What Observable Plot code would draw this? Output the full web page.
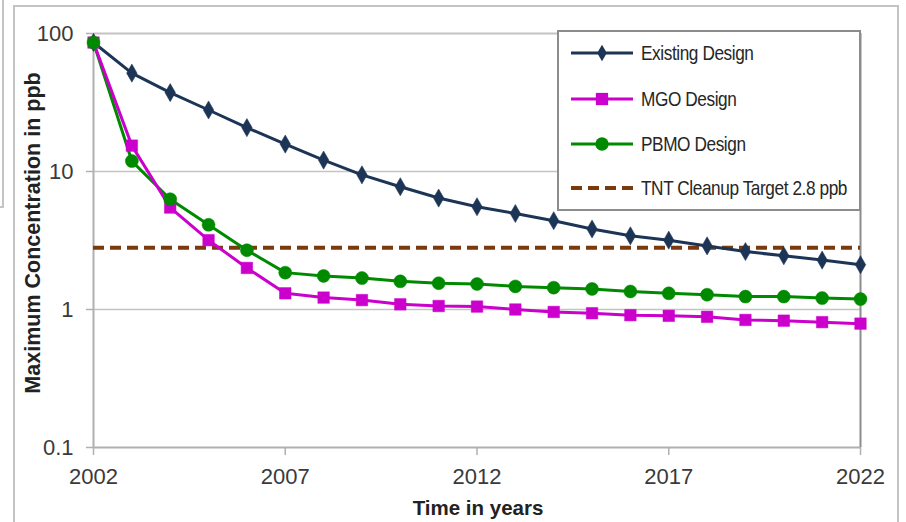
<!DOCTYPE html>
<html>
<head>
<meta charset="utf-8">
<script src="https://cdn.jsdelivr.net/npm/d3@7"></script>
<script src="https://cdn.jsdelivr.net/npm/@observablehq/plot@0.6"></script>
<style>
  html, body { margin: 0; padding: 0; background: #fff; }
  #wrap { position: relative; width: 906px; height: 522px; overflow: hidden; }
  #outer { position: absolute; left: 13px; top: 5px; width: 886px; height: 540px; border: 2px solid #c4c4c4; box-sizing: border-box; }
  #artifact { position: absolute; left: -2px; top: -2px; width: 6px; height: 210px; border: 2px solid #c4c4c4; box-sizing: border-box; }
  #chart { position: absolute; left: 0; top: 0; }
  #legend { position: absolute; left: 557px; top: 30px; width: 304px; height: 181px; border: 2px solid #8c8c8c; box-sizing: border-box; background: #fff;
    font-family: "Liberation Sans", sans-serif; font-size: 21px; color: #262626; }
  .item { position: absolute; left: 12px; height: 30px; display: flex; align-items: center; white-space: nowrap; }
  .item svg { margin-right: 8px; flex: none; }
  .item span { display: inline-block; transform: scaleX(0.82); transform-origin: left center; letter-spacing: -0.5px; }
  .title { position: absolute; font-family: "Liberation Sans", sans-serif; font-weight: bold; color: #222; white-space: nowrap; }
</style>
</head>
<body>
<div id="wrap">
  <div id="artifact"></div>
  <div id="outer"></div>
  <div id="chart"></div>
  <div id="legend"></div>
  <div class="title" style="left:33px; top:233px; font-size:21.5px; transform: translate(-50%,-50%) rotate(-90deg);">Maximum Concentration in ppb</div>
  <div class="title" style="left:478px; top:508px; font-size:20.5px; transform: translate(-50%,-50%);">Time in years</div>
</div>
<script>
const years = d3.range(2002, 2023);
const existing = [86, 51.6, 37.3, 27.9, 20.8, 15.8, 12.1, 9.46, 7.75, 6.42, 5.55, 4.96, 4.40, 3.83, 3.42, 3.18, 2.89, 2.63, 2.45, 2.28, 2.11];
const mgo      = [86, 15.4, 5.48, 3.18, 2.0, 1.31, 1.22, 1.17, 1.09, 1.06, 1.05, 1.0, 0.96, 0.94, 0.91, 0.90, 0.885, 0.84, 0.83, 0.81, 0.79];
const pbmo     = [86, 11.9, 6.3, 4.11, 2.69, 1.85, 1.75, 1.69, 1.60, 1.55, 1.53, 1.47, 1.44, 1.41, 1.35, 1.31, 1.28, 1.24, 1.24, 1.21, 1.19];
const target = 2.8;
const seriesNames = ["Existing Design", "MGO Design", "PBMO Design", "TNT Cleanup Target 2.8 ppb"];
const xTicks = [2002, 2007, 2012, 2017, 2022];
const yTicks = [0.1, 1, 10, 100];
const colors = {existing: "#1c3557", mgo: "#cc00cc", pbmo: "#008a00", target: "#7a3a0e"};

const rows = (vals) => years.map((y, i) => ({year: y, value: vals[i]}));
const dExisting = rows(existing), dMgo = rows(mgo), dPbmo = rows(pbmo);

const chart = Plot.plot({
  width: 906, height: 522,
  marginLeft: 93, marginRight: 46, marginTop: 33, marginBottom: 75,
  style: {fontFamily: "Liberation Sans, sans-serif", fontSize: "22px", color: "#3a3a3a", background: "transparent"},
  x: {domain: [2002, 2022]},
  y: {type: "log", domain: [0.1, 100]},
  marks: [
    Plot.gridY([1, 10], {stroke: "#c4c4c4", strokeOpacity: 1, strokeWidth: 1.5}),
    Plot.ruleY([100], {stroke: "#c4c4c4", strokeWidth: 2}),
    Plot.ruleX([2022], {stroke: "#8c8c8c", strokeWidth: 2}),
    Plot.ruleY([0.1], {stroke: "#b0b0b0", strokeWidth: 2}),
    Plot.ruleX([2002], {stroke: "#b0b0b0", strokeWidth: 2}),
    Plot.axisX({ticks: xTicks, tickFormat: d => String(d), tickSize: 8, tickPadding: 13, stroke: "#b0b0b0", strokeWidth: 1.5, label: null, fontSize: 22}),
    Plot.axisY({ticks: yTicks, tickFormat: d => String(d), tickSize: 7, tickPadding: 13, stroke: "#b0b0b0", strokeWidth: 1.5, label: null, fontSize: 22}),
    Plot.ruleY([target], {stroke: colors.target, strokeWidth: 4, strokeDasharray: "11,6"}),
    Plot.line(dExisting, {x: "year", y: "value", stroke: colors.existing, strokeWidth: 3}),
    Plot.dot(dExisting, {x: "year", y: "value", symbol: "diamond", r: 5.5, fill: colors.existing, stroke: colors.existing, strokeWidth: 0.5}),
    Plot.line(dPbmo, {x: "year", y: "value", stroke: colors.pbmo, strokeWidth: 3}),
    Plot.line(dMgo, {x: "year", y: "value", stroke: colors.mgo, strokeWidth: 3}),
    Plot.dot(dMgo, {x: "year", y: "value", symbol: "square", r: 6.5, fill: colors.mgo, stroke: colors.mgo, strokeWidth: 0.5}),
    Plot.dot(dPbmo, {x: "year", y: "value", symbol: "circle", r: 6.5, fill: colors.pbmo, stroke: colors.pbmo, strokeWidth: 0.5})
  ]
});
document.getElementById("chart").appendChild(chart);

// Legend
const legend = d3.select("#legend");
const legendSpec = [
  {name: seriesNames[0], color: colors.existing, symbol: d3.symbolDiamond, size: 80, dash: null},
  {name: seriesNames[1], color: colors.mgo, symbol: d3.symbolSquare, size: 150, dash: null},
  {name: seriesNames[2], color: colors.pbmo, symbol: d3.symbolCircle, size: 140, dash: null},
  {name: seriesNames[3], color: colors.target, symbol: null, size: 0, dash: "11,6"}
];
const rowTops = [6, 52, 97, 141];
legendSpec.forEach((s, i) => {
  const item = legend.append("div").attr("class", "item").style("top", rowTops[i] + "px");
  const svg = item.append("svg").attr("width", 62).attr("height", 20);
  svg.append("line").attr("x1", 0).attr("x2", 62).attr("y1", 10).attr("y2", 10)
    .attr("stroke", s.color).attr("stroke-width", s.dash ? 4 : 3)
    .attr("stroke-dasharray", s.dash);
  if (s.symbol) {
    svg.append("path").attr("d", d3.symbol(s.symbol, s.size)()).attr("transform", "translate(31,10)").attr("fill", s.color);
  }
  item.append("span").text(s.name);
});
</script>
</body>
</html>
